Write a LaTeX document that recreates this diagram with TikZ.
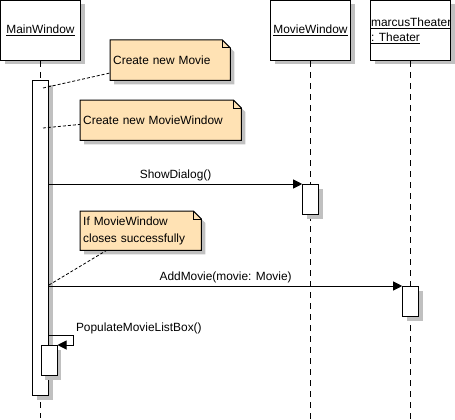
\documentclass[tikz,border=0pt]{standalone}
\usepackage{fontspec}
\setmainfont{Liberation Sans}
\usetikzlibrary{positioning, arrows.meta, shadows, backgrounds}
\definecolor{notefill}{RGB}{255,226,180}
\definecolor{shadegray}{RGB}{192,192,192}

\begin{document}
\begin{tikzpicture}[
    x=1pt, y=-1pt,
    font=\fontsize{11.9}{15}\selectfont,
    head/.style={rectangle, draw, line width=1pt, fill=white, minimum width=80pt, minimum height=60pt, inner sep=0pt, general shadow={fill=shadegray, shadow xshift=4pt, shadow yshift=-4pt}},
    act/.style={rectangle, draw, line width=1pt, fill=white, minimum width=16pt, inner sep=0pt, anchor=north, general shadow={fill=shadegray, shadow xshift=4pt, shadow yshift=-4pt}},
    lifeline/.style={dash pattern=on 6pt off 5pt, line width=1pt},
    msg/.style={-{Triangle[length=9pt,width=9pt]}, line width=1pt},
    note/.style={anchor=north west, inner xsep=3pt, inner ysep=0pt, minimum height=40pt, align=left, font=\fontsize{11.9}{16.5}\selectfont},
    link/.style={dash pattern=on 3pt off 2pt, line width=0.8pt}
]
    \useasboundingbox (0,0) rectangle (455,420);

    % Objects
    \node[head] (mw) at (40.5,30.5) {\underline{MainWindow}};
    \node[head] (mvw) at (310.5,30.5) {\underline{MovieWindow}};
    \node[head] (th) at (410.5,30.5) {};
    \begin{scope}
        \clip (th.north west) rectangle (th.south east);
        \node[anchor=north west, inner sep=0pt, align=left] (thname) at (371,17.5) {\underline{marcusTheater}\\\underline{: Theater}};
    \end{scope}

    % Lifelines
    \draw[lifeline] (mw.south) -- (mw.south |- 0,418);
    \draw[lifeline] (mvw.south) -- (mvw.south |- 0,420);
    \draw[lifeline] (th.south) -- (th.south |- 0,420);

    % Activations
    \node[act, minimum height=315pt] (a1) at (40.5,80) {};
    \node[act, minimum height=30pt] (a2) at (310.7,184) {};
    \node[act, minimum height=30pt] (a3) at (410.7,286) {};
    \node[act, minimum height=30pt] (a4) at (49,345) {};

    % Messages
    \draw[msg] (a1.east |- a2.north) -- (a2.north west) node[midway, above=3pt, inner sep=0pt] {ShowDialog()};
    \draw[msg] (a1.east |- a3.north) -- (a3.north west) node[midway, above=3pt, inner sep=0pt] {AddMovie(movie: Movie)};
    \draw[msg] (a1.east |- 0,335) -| ([xshift=16pt]a4.north east) node[pos=0.5, anchor=south west, inner sep=0pt, xshift=2pt, yshift=1pt] {PopulateMovieListBox()} -- (a4.north east);

    % Notes
    \node[note, text width=114pt] (n1) at (110,40) {Create new Movie};
    \node[note, text width=155pt] (n2) at (80,100) {Create new MovieWindow};
    \node[note, text width=115pt, minimum height=39pt] (n3) at (80,211) {If MovieWindow\\closes successfully};
    \begin{scope}[on background layer]
        \foreach \n in {n1,n2,n3} {
            \fill[shadegray, transform canvas={shift={(4pt,-4pt)}}] (\n.north west) -- ([xshift=-8pt]\n.north east) -- ([yshift=-8pt]\n.north east) -- (\n.south east) -- (\n.south west) -- cycle;
            \filldraw[fill=notefill, line width=1pt] (\n.north west) -- ([xshift=-8pt]\n.north east) -- ([yshift=-8pt]\n.north east) -- (\n.south east) -- (\n.south west) -- cycle;
            \draw[line width=1pt] ([xshift=-8pt]\n.north east) |- ([yshift=-8pt]\n.north east);
        }
    \end{scope}

    % Note links
    \coordinate (m1) at (43,88);
    \coordinate (m2) at (43,128);
    \coordinate (m3) at (49,285);
    \draw[link] (m1) -- (n1.192);
    \draw[link] (m2) -- (n2.183);
    \draw[link] (m3) -- (n3.210);
\end{tikzpicture}
\end{document}
